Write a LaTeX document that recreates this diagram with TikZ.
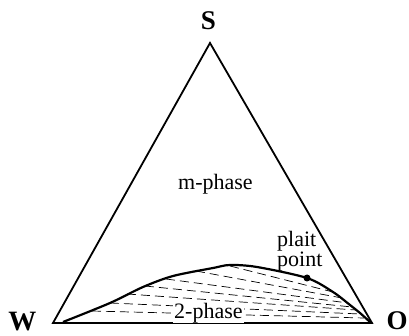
\documentclass[tikz,border=0pt]{standalone}
\usepackage{fontspec}
\setmainfont{Liberation Serif}
\begin{document}
\begin{tikzpicture}[x=1pt,y=-1pt,
  vlabel/.style={inner sep=0pt,anchor=base,text depth=0pt,font=\fontsize{27}{27}\selectfont\bfseries},
  txt/.style={inner sep=0pt,anchor=base west,font=\fontsize{22}{22}\selectfont},
  side/.style={line width=1.8pt},
  tie/.style={line width=0.7pt,dash pattern=on 9pt off 5pt},
  binodal/.style={line width=2.2pt,line join=round}]
\useasboundingbox (0,0) rectangle (409,336);
\coordinate (S) at (210,43);
\coordinate (W) at (53,323);
\coordinate (O) at (372,323);
% tie lines
\coordinate (a1) at (230,266); \coordinate (b1) at (333,292);
\coordinate (a2) at (196,271); \coordinate (b2) at (342,298);
\coordinate (a3) at (166,279); \coordinate (b3) at (348,303);
\coordinate (a4) at (145,286); \coordinate (b4) at (352,307);
\coordinate (a5) at (127,294); \coordinate (b5) at (356,310);
\coordinate (a6) at (110,303); \coordinate (b6) at (360,314);
\coordinate (a7) at (92,311);  \coordinate (b7) at (364,318);
\foreach \i in {1,...,7} \draw[tie] (a\i) -- (b\i);
% binodal curve
\draw[binodal] plot[smooth,tension=0.5] coordinates {(63,322) (110,303) (143,287) (173,276) (213,268) (230,265) (257,267) (307,278) (333,292) (350,305) (360,313) (370,322)};
% triangle
\draw[side,line join=miter] (W) -- (S) -- (O) -- cycle;
% plait point
\coordinate (P) at (307,278);
\fill (P) circle (3.5pt);
% labels
\node[vlabel] (lS) at (208.5,30) {S};
\node[vlabel,font=\fontsize{28}{28}\selectfont\bfseries] (lW) at (22.5,330) {W};
\node[vlabel] (lO) at (397,329.5) {O};
\node[txt] (m) at (178,190) {m-phase};
\node[txt] (pl) at (277,247) {plait};
\node[txt] (pt) at (277,267) {point};
\node[txt,fill=white,inner xsep=1pt] (tp) at (173,318) {2-phase};
\end{tikzpicture}
\end{document}
